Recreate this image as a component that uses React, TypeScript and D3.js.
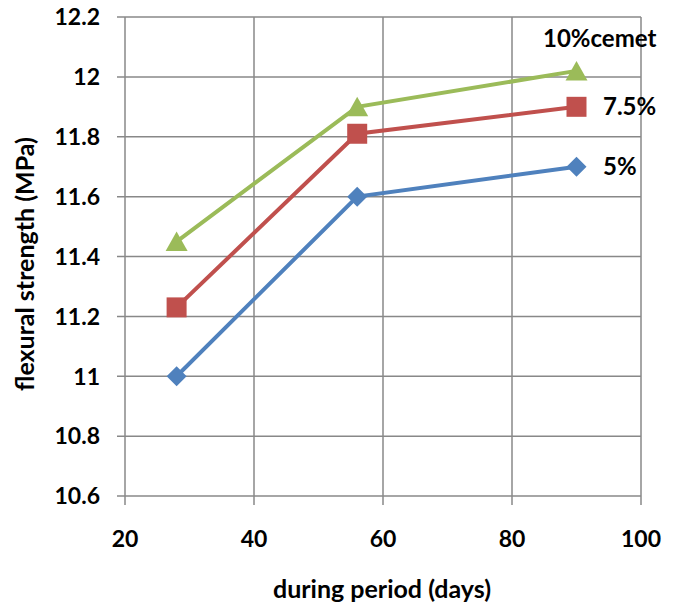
import React from "react";
import * as d3 from "d3";

const days = [28, 56, 90];
const series5 = [11.0, 11.6, 11.7];
const series75 = [11.23, 11.81, 11.9];
const series10 = [11.45, 11.9, 12.02];
const seriesLabels = ["5%", "7.5%", "10%cemet"];
const xTicks = [20, 40, 60, 80, 100];
const yTicks = [10.6, 10.8, 11, 11.2, 11.4, 11.6, 11.8, 12, 12.2];

const W = 677;
const H = 607;
const left = 125;
const right = 641;
const top = 17;
const bottom = 496;
const FONT = "Lato, 'Open Sans', sans-serif";

export default function App() {
  const x = d3.scaleLinear().domain([20, 100]).range([left, right]);
  const y = d3.scaleLinear().domain([10.6, 12.2]).range([bottom, top]);
  const line = d3
    .line<number>()
    .x((_, i) => x(days[i]))
    .y((d) => y(d));

  const series = [
    { values: series5, color: "#4F81BD", marker: "diamond", label: seriesLabels[0] },
    { values: series75, color: "#C0504D", marker: "square", label: seriesLabels[1] },
    { values: series10, color: "#9BBB59", marker: "triangle", label: seriesLabels[2] },
  ];

  const sym = (m: string) => {
    if (m === "diamond") return "M0,-10L10,0L0,10L-10,0Z";
    if (m === "square") return "M-10,-10H10V10H-10Z";
    return "M0,-10L11,9.5L-11,9.5Z";
  };

  return (
    <svg
      width={W}
      height={H}
      style={{ position: "absolute", left: 0, top: 0, background: "#fff" }}
      fontFamily={FONT}
    >
      {yTicks.map((t) => (
        <line key={"gy" + t} x1={left - 8} x2={right} y1={y(t)} y2={y(t)} stroke="#888" strokeWidth={1.5} />
      ))}
      {xTicks.map((t) => (
        <line key={"gx" + t} x1={x(t)} x2={x(t)} y1={top} y2={bottom + 9} stroke="#888" strokeWidth={1.5} />
      ))}
      {yTicks.map((t) => (
        <text
          key={"ly" + t}
          x={100}
          y={y(t)}
          dy="0.36em"
          textAnchor="end"
          fontSize={23}
          fontWeight="bold"
          fill="#000"
        >
          {d3.format("")(+t.toFixed(1))}
        </text>
      ))}
      {xTicks.map((t) => (
        <text
          key={"lx" + t}
          x={x(t)}
          y={547}
          textAnchor="middle"
          fontSize={23}
          fontWeight="bold"
          fill="#000"
        >
          {t}
        </text>
      ))}
      <text x={382} y={598} textAnchor="middle" fontSize={25} fontWeight="bold" fill="#000">
        during period (days)
      </text>
      <text
        transform={`translate(34, 264) rotate(-90)`}
        textAnchor="middle"
        fontSize={25}
        fontWeight="bold"
        fill="#000"
      >
        flexural strength (MPa)
      </text>
      {series.map((s) => (
        <g key={s.label}>
          <path d={line(s.values) || ""} fill="none" stroke={s.color} strokeWidth={4} />
          {s.values.map((v, i) => (
            <path
              key={i}
              d={sym(s.marker)}
              transform={`translate(${x(days[i])},${y(v)})`}
              fill={s.color}
            />
          ))}
        </g>
      ))}
      <text x={603} y={y(series5[2])} dy="0.36em" fontSize={24} fontWeight="bold" fill="#000">
        {seriesLabels[0]}
      </text>
      <text x={603} y={y(series75[2])} dy="0.36em" fontSize={24} fontWeight="bold" fill="#000">
        {seriesLabels[1]}
      </text>
      <text x={543} y={47} fontSize={24} fontWeight="bold" fill="#000">
        {seriesLabels[2]}
      </text>
    </svg>
  );
}
